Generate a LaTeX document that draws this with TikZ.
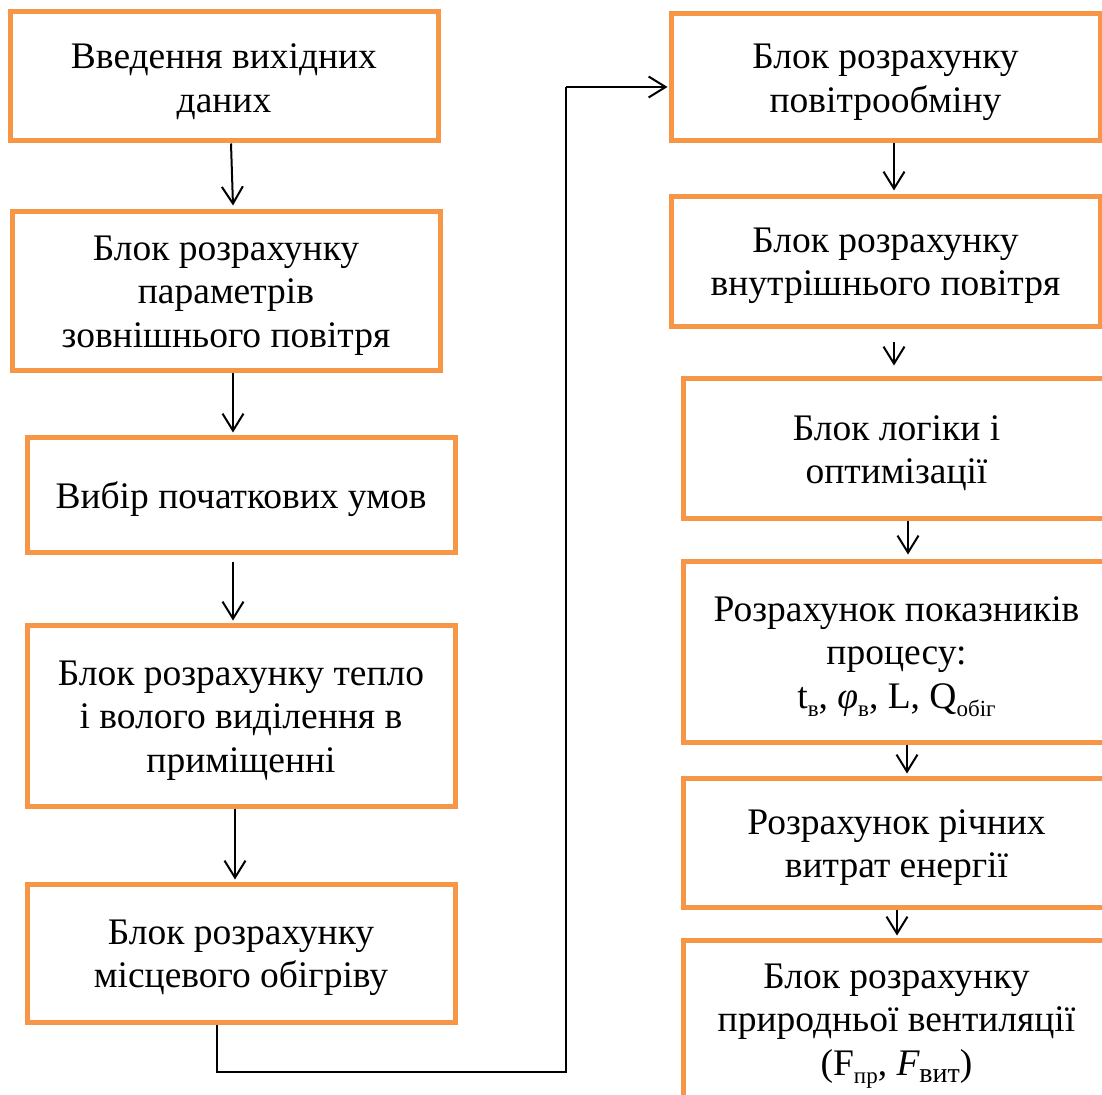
\documentclass[tikz,border=0pt]{standalone}
\usepackage{fontspec}
\setmainfont{Liberation Serif}
\usetikzlibrary{arrows.meta}
\definecolor{boxorange}{HTML}{F79646}
\newcommand{\sbs}[1]{\raisebox{-0.22em}{\fontsize{23}{23}\selectfont #1}}
\begin{document}
\begin{tikzpicture}[x=1pt,y=-1pt,
  blk/.style={draw=boxorange, line width=5pt, inner sep=0pt, fill=white},
  txt/.style={align=center, inner sep=0pt, font=\fontsize{37.5}{43.5}\selectfont},
  arr/.style={draw=black, line width=2pt, -{Straight Barb[length=17pt,width=21pt,line width=2pt]}}]
\useasboundingbox (0,0) rectangle (1102,1094);
\clip (0,0) rectangle (1102,1094);
% left column
\node[blk, minimum width=428pt, minimum height=129pt] (b1) at (224,76.5) {};
\node[txt] (b1t) at ([yshift=-5pt]b1.center) {Введення вихідних\\даних};
\node[blk, minimum width=428pt, minimum height=159pt] (b2) at (226,290.5) {};
\node[txt] (b2t) at ([yshift=-5pt]b2.center) {Блок розрахунку\\параметрів\\зовнішнього повітря};
\node[blk, minimum width=428pt, minimum height=115pt] (b3) at (241,494.5) {};
\node[txt] (b3t) at ([yshift=-5pt]b3.center) {Вибір початкових умов};
\node[blk, minimum width=428pt, minimum height=181pt] (b4) at (241,715.5) {};
\node[txt] (b4t) at ([yshift=-5pt]b4.center) {Блок розрахунку тепло\\і волого виділення в\\приміщенні};
\node[blk, minimum width=428pt, minimum height=138pt] (b5) at (241,953) {};
\node[txt] (b5t) at ([yshift=-5pt]b5.center) {Блок розрахунку\\місцевого обігріву};
% right column
\node[blk, minimum width=429pt, minimum height=127pt] (r1) at (885.5,77.5) {};
\node[txt] (r1t) at ([yshift=-5pt]r1.center) {Блок розрахунку\\повітрообміну};
\node[blk, minimum width=429pt, minimum height=130pt] (r2) at (885.5,261) {};
\node[txt] (r2t) at ([yshift=-5pt]r2.center) {Блок розрахунку\\внутрішнього повітря};
\node[blk, minimum width=427pt, minimum height=140pt] (r3) at (896.5,448) {};
\node[txt] (r3t) at ([yshift=-5pt]r3.center) {Блок логіки і\\оптимізації};
\node[blk, minimum width=427pt, minimum height=181pt] (r4) at (896.5,651.5) {};
\node[txt] (r4t) at ([yshift=-5pt]r4.center) {Розрахунок показників\\процесу:\\t\sbs{в}, {\itshape φ}\sbs{в}, L, Q\sbs{обіг}};
\node[blk, minimum width=427pt, minimum height=129pt] (r5) at (896.5,842.5) {};
\node[txt] (r5t) at ([yshift=-5pt]r5.center) {Розрахунок річних\\витрат енергії};
\node[blk, minimum width=427pt, minimum height=162pt] (r6) at (896.5,1021) {};
\node[txt] (r6t) at ([yshift=-5pt]r6.center) {Блок розрахунку\\природньої вентиляції\\(F\sbs{пр}, {\itshape F}\raisebox{-0.2em}{\fontsize{28}{28}\selectfont вит})};
% connectors
\draw[arr] ([xshift=7pt]b1.south) -- ([xshift=7pt,yshift=3pt]b2.north);
\draw[arr] ([xshift=7pt]b2.south) -- ([xshift=-8pt,yshift=2pt]b3.north);
\draw[arr] ([xshift=-8pt,yshift=-7pt]b3.south) -- ([xshift=-8pt,yshift=2pt]b4.north);
\draw[arr] ([xshift=-6pt]b4.south) -- ([xshift=-6pt,yshift=2pt]b5.north);
\coordinate (turnA) at (217,1072);
\coordinate (turnB) at (566,1072);
\coordinate (turnC) at (566,87);
\draw[arr, -] ([xshift=-24pt]b5.south) -- (turnA) -- (turnB) -- (turnC);
\draw[arr] (turnC) -- ([xshift=-1pt,yshift=-9.5pt]r1.west);
\draw[arr] ([xshift=8.5pt]r1.south) -- ([xshift=8.5pt,yshift=3pt]r2.north);
\draw[arr] ([xshift=8.5pt,yshift=-13pt]r2.south) -- ([xshift=-2.5pt,yshift=10pt]r3.north);
\draw[arr] ([xshift=11.5pt]r3.south) -- ([xshift=11.5pt,yshift=4pt]r4.north);
\draw[arr] ([xshift=10.5pt]r4.south) -- ([xshift=10.5pt,yshift=2pt]r5.north);
\draw[arr] ([xshift=0.5pt]r5.south) -- ([xshift=0.5pt,yshift=2pt]r6.north);
\end{tikzpicture}
\end{document}
